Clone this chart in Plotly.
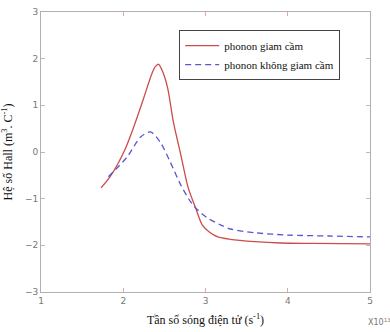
import plotly.graph_objects as go

red_x = [1.73, 1.84, 2.02, 2.12, 2.24, 2.35, 2.39, 2.43, 2.48, 2.54, 2.61, 2.70, 2.79, 2.88, 2.96, 3.05, 3.15, 3.3, 3.6, 3.91, 4.3, 5.0]
red_y = [-0.77, -0.53, 0.05, 0.50, 1.11, 1.69, 1.83, 1.88, 1.72, 1.37, 0.64, -0.06, -0.77, -1.2, -1.56, -1.72, -1.82, -1.87, -1.92, -1.95, -1.96, -1.97]

blue_x = [1.82, 2.05, 2.21, 2.33, 2.45, 2.57, 2.70, 2.82, 2.88, 3.02, 3.18, 3.3, 3.6, 4.0, 4.5, 5.0]
blue_y = [-0.53, -0.1, 0.32, 0.43, 0.21, -0.21, -0.71, -1.07, -1.2, -1.41, -1.56, -1.65, -1.73, -1.78, -1.80, -1.82]

x_ticks = [1, 2, 3, 4, 5]
y_ticks = [-3, -2, -1, 0, 1, 2, 3]

SERIF = "Liberation Serif, Times New Roman, serif"

fig = go.Figure()
fig.add_trace(go.Scatter(x=red_x, y=red_y, mode="lines", name="phonon giam cầm",
                         line=dict(color="#cc4b4b", width=1.3, shape="spline", smoothing=0.8)))
fig.add_trace(go.Scatter(x=blue_x, y=blue_y, mode="lines", name="phonon không giam cầm",
                         line=dict(color="#5858cc", width=1.3, dash="6px,4px", shape="spline", smoothing=0.8)))

axis_common = dict(showgrid=False, zeroline=False, showline=True, linecolor="#b0b0b0", linewidth=1,
                   mirror="ticks", ticks="inside", ticklen=4, tickcolor="#e0a8a8", automargin=False,
                   tickfont=dict(family="DejaVu Sans", size=9, color="#777777"))

fig.update_xaxes(range=[1, 5], tickvals=x_ticks, **axis_common,
                 title=dict(text="Tần số sóng điện tử (s<sup>-1</sup>)", standoff=10,
                            font=dict(family=SERIF, size=12, color="#111111")))
fig.update_yaxes(range=[-3, 3], tickvals=y_ticks, **axis_common,
                 title=dict(text="Hệ số Hall (m<sup>3</sup>. C<sup>-1</sup>)", standoff=12,
                            font=dict(family=SERIF, size=12, color="#111111")))

fig.add_annotation(x=1.0, y=0, xref="paper", yref="paper", text="X10<sup>13</sup>", showarrow=False,
                   xanchor="left", yanchor="top", yshift=-23, xshift=-4,
                   font=dict(family="DejaVu Sans", size=8, color="#777777"))

fig.update_layout(
    width=390, height=332,
    margin=dict(l=41, r=20, t=12, b=40),
    paper_bgcolor="white", plot_bgcolor="white",
    showlegend=True,
    legend=dict(x=0.42, y=0.935, xanchor="left", yanchor="top", bgcolor="white",
                bordercolor="#444444", borderwidth=1,
                font=dict(family=SERIF, size=11, color="#111111"),
                tracegroupgap=0, itemwidth=34),
)

fig.write_html("out.html", config={"displayModeBar": False},
               post_script="document.body.style.margin='0';document.body.style.padding='0';")
